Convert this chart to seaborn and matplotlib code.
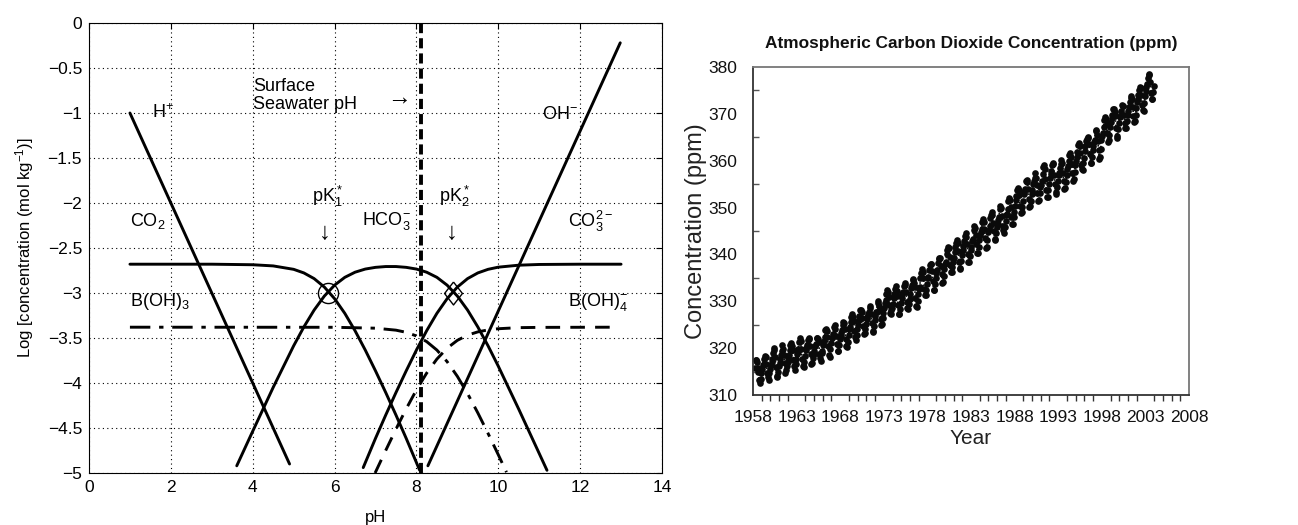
import numpy as np
import pandas as pd
import matplotlib
matplotlib.use("Agg")
import matplotlib.pyplot as plt
from matplotlib.ticker import MultipleLocator, FuncFormatter
import seaborn as sns

# ---------------- Left panel data ----------------
CO2_PH = [1, 3, 4, 4.5, 5, 5.25, 5.5, 5.75, 6, 6.25, 6.5, 6.75, 7, 7.25, 7.5, 7.75, 8, 8.08]
CO2_LOG = [-2.68, -2.68, -2.686, -2.699, -2.737, -2.777, -2.840, -2.934, -3.063, -3.226,
           -3.419, -3.634, -3.865, -4.106, -4.356, -4.615, -4.884, -4.97]

HCO3_PH = [3.61, 4, 4.5, 5, 5.25, 5.5, 5.75, 6, 6.25, 6.5, 6.75, 7, 7.25, 7.5, 7.75, 8,
           8.25, 8.5, 8.75, 9, 9.25, 9.5, 9.75, 10, 10.5, 11, 11.19]
HCO3_LOG = [-4.92, -4.536, -4.049, -3.587, -3.377, -3.190, -3.034, -2.913, -2.826, -2.769,
            -2.734, -2.715, -2.706, -2.706, -2.715, -2.734, -2.769, -2.826, -2.913, -3.034,
            -3.190, -3.377, -3.587, -3.813, -4.291, -4.783, -4.97]

CO3_PH = [6.7, 7, 7.25, 7.5, 7.75, 8, 8.25, 8.5, 8.75, 9, 9.25, 9.5, 9.75, 10, 10.5, 11, 12, 13]
CO3_LOG = [-4.94, -4.615, -4.356, -4.106, -3.865, -3.634, -3.419, -3.226, -3.063, -2.934,
           -2.840, -2.777, -2.737, -2.713, -2.691, -2.683, -2.68, -2.68]

BOH3_PH = [1, 6, 7, 7.5, 7.75, 8, 8.25, 8.5, 8.75, 9, 9.25, 9.5, 9.75, 10, 10.2]
BOH3_LOG = [-3.38, -3.381, -3.391, -3.413, -3.437, -3.477, -3.540, -3.634, -3.763, -3.926,
            -4.118, -4.332, -4.560, -4.797, -4.991]

BOH4_PH = [6.99, 7.25, 7.5, 7.75, 8, 8.25, 8.5, 8.75, 9, 9.25, 9.5, 9.75, 10, 10.5, 11, 12.86]
BOH4_LOG = [-5.0, -4.749, -4.513, -4.287, -4.077, -3.890, -3.734, -3.613, -3.526, -3.468,
            -3.432, -3.410, -3.397, -3.385, -3.382, -3.38]

H_PH = [1, 4.9]
H_LOG = [-1, -4.9]
OH_PH = [8.28, 12.98]
OH_LOG = [-4.92, -0.22]

SURFACE_PH = 8.1
PK1 = (5.85, -3.0)
PK2 = (8.9, -3.0)

PH_TICKS = [0, 2, 4, 6, 8, 10, 12, 14]
LOG_TICKS = [0, -0.5, -1, -1.5, -2, -2.5, -3, -3.5, -4, -4.5, -5]

# ---------------- Right panel data (Mauna Loa monthly, Mar 1958 - Dec 2003) ----------------
CO2_START_YEAR = 1958
CO2_START_MONTH = 3
CO2_PPM = [
    315.71, 317.45, 317.50, 317.10, 315.86, 314.93, 313.20, 312.66, 313.33, 314.67,
    315.62, 316.38, 316.71, 317.72, 318.29, 318.15, 316.54, 314.80, 313.84, 313.26, 314.80, 315.58,
    316.43, 316.97, 317.58, 319.02, 320.03, 319.59, 318.18, 315.91, 314.16, 313.83, 315.00, 316.19,
    316.93, 317.70, 318.54, 319.48, 320.58, 319.77, 318.57, 316.79, 314.80, 315.38, 316.10, 317.01,
    317.94, 318.56, 319.68, 320.63, 321.01, 320.55, 319.58, 317.40, 316.26, 315.42, 316.69, 317.69,
    318.74, 319.08, 319.86, 321.39, 322.25, 321.47, 319.74, 317.77, 316.21, 315.99, 317.12, 318.31,
    319.57, 320.07, 320.73, 321.77, 322.25, 321.89, 320.44, 318.70, 316.70, 316.79, 317.79, 318.71,
    319.44, 320.44, 320.89, 322.13, 322.16, 321.87, 321.39, 318.81, 317.81, 317.30, 318.87, 319.42,
    320.62, 321.59, 322.39, 323.87, 324.01, 323.75, 322.39, 320.37, 318.64, 318.10, 319.79, 321.08,
    322.07, 322.50, 323.04, 324.42, 325.00, 324.09, 322.55, 320.92, 319.31, 319.31, 320.72, 321.96,
    322.57, 323.15, 323.89, 325.02, 325.57, 325.36, 324.14, 322.03, 320.41, 320.25, 321.31, 322.84,
    324.00, 324.42, 325.64, 326.66, 327.38, 326.70, 325.89, 323.67, 322.38, 321.78, 322.85, 324.12,
    325.03, 325.99, 326.87, 328.13, 328.07, 327.66, 326.35, 324.69, 323.10, 323.16, 323.98, 325.13,
    326.17, 326.68, 327.18, 327.78, 328.92, 328.57, 327.34, 325.46, 323.36, 323.57, 324.80, 326.01,
    326.77, 327.63, 327.75, 329.72, 330.07, 329.09, 328.05, 326.32, 324.93, 325.06, 326.50, 327.55,
    328.54, 329.56, 330.30, 331.50, 332.48, 332.07, 330.87, 329.31, 327.51, 327.18, 328.16, 328.64,
    329.35, 330.71, 331.48, 332.65, 333.20, 332.16, 331.07, 329.12, 327.32, 327.28, 328.30, 329.58,
    330.73, 331.46, 331.90, 333.17, 333.94, 333.45, 331.97, 329.95, 328.50, 328.34, 329.37, 330.58,
    331.59, 332.75, 333.52, 334.64, 334.77, 334.00, 333.06, 330.68, 328.95, 328.75, 330.15, 331.62,
    332.66, 333.13, 334.95, 336.13, 336.93, 336.17, 334.88, 332.56, 331.29, 331.27, 332.41, 333.60,
    334.95, 335.25, 336.66, 337.69, 338.03, 338.01, 336.41, 334.41, 332.37, 332.41, 333.75, 334.90,
    336.14, 336.69, 338.27, 338.95, 339.21, 339.26, 337.54, 335.75, 333.98, 334.19, 335.31, 336.81,
    337.90, 338.34, 340.01, 340.93, 341.48, 341.33, 339.40, 337.70, 336.19, 336.15, 337.27, 338.32,
    339.29, 340.55, 341.61, 342.53, 343.03, 342.54, 340.78, 338.44, 336.95, 337.08, 338.58, 339.88,
    340.96, 341.73, 342.81, 343.97, 344.63, 343.79, 342.32, 340.09, 338.28, 338.29, 339.60, 340.90,
    341.68, 342.90, 343.33, 345.25, 346.03, 345.63, 344.19, 342.27, 340.35, 340.38, 341.59, 343.05,
    344.10, 344.79, 345.52, 346.84, 347.63, 346.97, 345.53, 343.55, 341.40, 341.67, 343.10, 344.70,
    345.21, 346.16, 347.74, 348.34, 349.06, 348.38, 346.71, 345.02, 343.27, 343.13, 344.49, 345.88,
    346.56, 347.28, 348.01, 349.77, 350.38, 349.93, 348.16, 346.08, 345.22, 344.51, 345.93, 347.22,
    348.52, 348.73, 349.73, 351.31, 352.09, 351.53, 350.11, 348.08, 346.52, 346.59, 347.96, 349.16,
    350.39, 351.64, 352.40, 353.69, 354.21, 353.72, 352.69, 350.40, 348.92, 349.13, 350.20, 351.41,
    352.91, 353.27, 353.96, 355.64, 355.86, 355.37, 353.99, 351.81, 350.05, 350.25, 351.49, 352.85,
    353.80, 355.04, 355.73, 356.32, 357.32, 356.34, 354.84, 353.01, 351.31, 351.62, 353.07, 354.33,
    354.84, 355.73, 357.23, 358.66, 359.13, 358.13, 356.19, 353.85, 352.25, 352.35, 353.81, 355.12,
    356.25, 357.11, 357.86, 359.09, 359.59, 359.33, 357.01, 354.94, 352.96, 353.32, 354.32, 355.57,
    357.00, 357.31, 358.47, 359.27, 360.19, 359.52, 357.33, 355.64, 354.03, 354.12, 355.41, 356.91,
    358.24, 358.92, 359.99, 361.23, 361.65, 360.81, 359.38, 357.46, 355.73, 356.07, 357.53, 358.98,
    359.92, 360.86, 361.83, 363.30, 363.69, 363.19, 361.64, 359.12, 358.17, 357.99, 359.45, 360.68,
    362.07, 363.24, 364.17, 364.57, 365.13, 364.92, 363.55, 361.38, 359.54, 359.58, 360.89, 362.24,
    363.09, 364.03, 364.51, 366.35, 366.64, 365.59, 364.31, 362.25, 360.29, 360.82, 362.49, 364.38,
    365.26, 365.98, 367.24, 368.66, 369.42, 368.99, 367.82, 365.95, 364.02, 364.40, 365.52, 367.13,
    368.18, 369.07, 369.68, 370.99, 370.96, 370.30, 369.45, 366.90, 364.81, 365.37, 366.72, 368.10,
    369.29, 369.55, 370.60, 371.82, 371.58, 371.70, 369.86, 368.13, 367.00, 367.03, 368.37, 369.67,
    370.59, 371.51, 372.43, 373.37, 373.85, 373.22, 371.50, 369.61, 368.18, 368.45, 369.76, 371.24,
    372.53, 373.20, 374.12, 375.02, 375.76, 375.52, 374.01, 371.85, 370.75, 370.55, 372.25, 373.79,
    374.88, 375.64, 376.45, 377.73, 378.60, 378.28, 376.70, 374.38, 373.17, 373.15, 374.66, 375.99,
]
YEAR_TICKS = [1958, 1963, 1968, 1973, 1978, 1983, 1988, 1993, 1998, 2003, 2008]
PPM_TICKS = [310, 320, 330, 340, 350, 360, 370, 380]

# ---------------- Style ----------------
sns.set_theme(style="white")
plt.rcParams['font.family'] = ['Liberation Sans', 'DejaVu Sans']
plt.rcParams['mathtext.fontset'] = 'custom'
plt.rcParams['mathtext.rm'] = 'Liberation Sans'
plt.rcParams['mathtext.it'] = 'Liberation Sans:italic'
plt.rcParams['mathtext.default'] = 'regular'
plt.rcParams['axes.unicode_minus'] = True

fig = plt.figure(figsize=(12.98, 5.25), dpi=100)
fig.patch.set_facecolor('white')

# ---------------- Left panel ----------------
ax = fig.add_axes([89 / 1298, 1 - 473 / 525, (662 - 89) / 1298, (473 - 23) / 525])
K = 'black'
LW = 2.1


def curve(xs, ys, **kw):
    df = pd.DataFrame({'pH': xs, 'logc': ys})
    sns.lineplot(data=df, x='pH', y='logc', ax=ax, sort=False, estimator=None,
                 color=K, linewidth=LW, **kw)


curve(H_PH, H_LOG)
curve(OH_PH, OH_LOG)
curve(CO2_PH, CO2_LOG)
curve(HCO3_PH, HCO3_LOG)
curve(CO3_PH, CO3_LOG)
curve(BOH3_PH, BOH3_LOG, linestyle=(0, (7, 3, 1.5, 3)))
curve(BOH4_PH, BOH4_LOG, linestyle=(0, (5, 3.5)))
ax.axvline(SURFACE_PH, color=K, linewidth=2.8, linestyle=(0, (2.6, 1.3)))

ax.plot([PK1[0]], [PK1[1]], marker='o', markersize=14.5, markerfacecolor='none',
        markeredgecolor=K, markeredgewidth=1.0)
diamond = [(0, 1), (0.78, 0), (0, -1), (-0.78, 0), (0, 1)]
ax.plot([PK2[0]], [PK2[1]], marker=diamond, markersize=16.5, markerfacecolor='none',
        markeredgecolor=K, markeredgewidth=1.0)

ax.set_xlim(0, 14)
ax.set_ylim(-5, 0)
ax.set_xticks(PH_TICKS)
ax.set_yticks(LOG_TICKS)
fmt = FuncFormatter(lambda v, p: ('%g' % v).replace('-', '\u2212'))
ax.xaxis.set_major_formatter(fmt)
ax.yaxis.set_major_formatter(fmt)
ax.grid(True, color=K, linestyle=(0, (1, 3)), linewidth=0.8)
ax.tick_params(direction='in', length=4, width=0.8, top=True, right=True,
               labelsize=12.5, colors=K, pad=5)
for s in ax.spines.values():
    s.set_color(K)
    s.set_linewidth(0.8)
ax.set_xlabel('pH', fontsize=12, color=K, labelpad=11)
ax.set_ylabel(r'Log [concentration (mol kg$^{-1}$)]', fontsize=12, color=K, labelpad=8)

tk = dict(fontsize=13, color=K)
ax.text(1.55, -1.0, r'H$^{+}$', va='center', ha='left', **tk)
ax.text(4.0, -0.71, 'Surface', va='center', ha='left', **tk)
ax.text(4.0, -0.91, 'Seawater pH', va='center', ha='left', **tk)
ax.text(7.58, -0.83, '\u2192', va='center', ha='center', fontsize=17, color=K)
ax.text(5.82, -1.93, r'pK$_1^*$', va='center', ha='center', **tk)
ax.text(5.77, -2.33, '\u2193', va='center', ha='center', fontsize=17, color=K)
ax.text(8.92, -1.93, r'pK$_2^*$', va='center', ha='center', **tk)
ax.text(8.86, -2.33, '\u2193', va='center', ha='center', fontsize=17, color=K)
ax.text(7.26, -2.2, r'HCO$_3^{-}$', va='center', ha='center', **tk)
ax.text(1.0, -2.2, r'CO$_2$', va='center', ha='left', **tk)
ax.text(11.07, -1.02, r'OH$^{-}$', va='center', ha='left', **tk)
ax.text(11.7, -2.2, r'CO$_3^{2-}$', va='center', ha='left', **tk)
ax.text(1.0, -3.1, r'B(OH)$_3$', va='center', ha='left', **tk)
ax.text(11.7, -3.1, r'B(OH)$_4^{-}$', va='center', ha='left', **tk)

# ---------------- Right panel ----------------
ax2 = fig.add_axes([753 / 1298, 1 - 395 / 525, (1189 - 753) / 1298, (395 - 67) / 525])
n = len(CO2_PPM)
t = CO2_START_YEAR + (CO2_START_MONTH - 1 + np.arange(n) + 0.5) / 12.0
kdf = pd.DataFrame({'Year': t, 'ppm': CO2_PPM})
sns.lineplot(data=kdf, x='Year', y='ppm', ax=ax2, sort=False, estimator=None,
             color='#111111', linewidth=1.2, linestyle=':', marker='o',
             markersize=4.8, markeredgewidth=0, markerfacecolor='#0a0a0a')

ax2.set_xlim(1958, 2008)
ax2.set_ylim(310, 380)
ax2.set_xticks(YEAR_TICKS)
ax2.set_yticks(PPM_TICKS)
ax2.xaxis.set_minor_locator(MultipleLocator(1))
ax2.yaxis.set_minor_locator(MultipleLocator(5))
ax2.tick_params(axis='both', which='major', direction='out', length=6, width=1.0,
                color='#333333', labelsize=12.5, labelcolor='#111111', pad=5)
ax2.tick_params(axis='x', which='minor', direction='out', length=4, width=1.0,
                color='#333333', bottom=True)
ax2.tick_params(axis='y', which='minor', direction='in', length=4, width=1.0,
                color='#555555', left=True)
ax2.spines['left'].set_color('#333333')
ax2.spines['bottom'].set_color('#333333')
ax2.spines['top'].set_color('#777777')
ax2.spines['right'].set_color('#777777')
for s in ax2.spines.values():
    s.set_linewidth(1.3)
ax2.set_title('Atmospheric Carbon Dioxide Concentration (ppm)', fontsize=12.4,
              fontweight='bold', color='#111111', pad=14)
ax2.set_xlabel('Year', fontsize=15, color='#222222', labelpad=3)
ax2.set_ylabel('Concentration (ppm)', fontsize=17, color='#222222', labelpad=1)

fig.savefig('out.png', dpi=100, facecolor='white')
